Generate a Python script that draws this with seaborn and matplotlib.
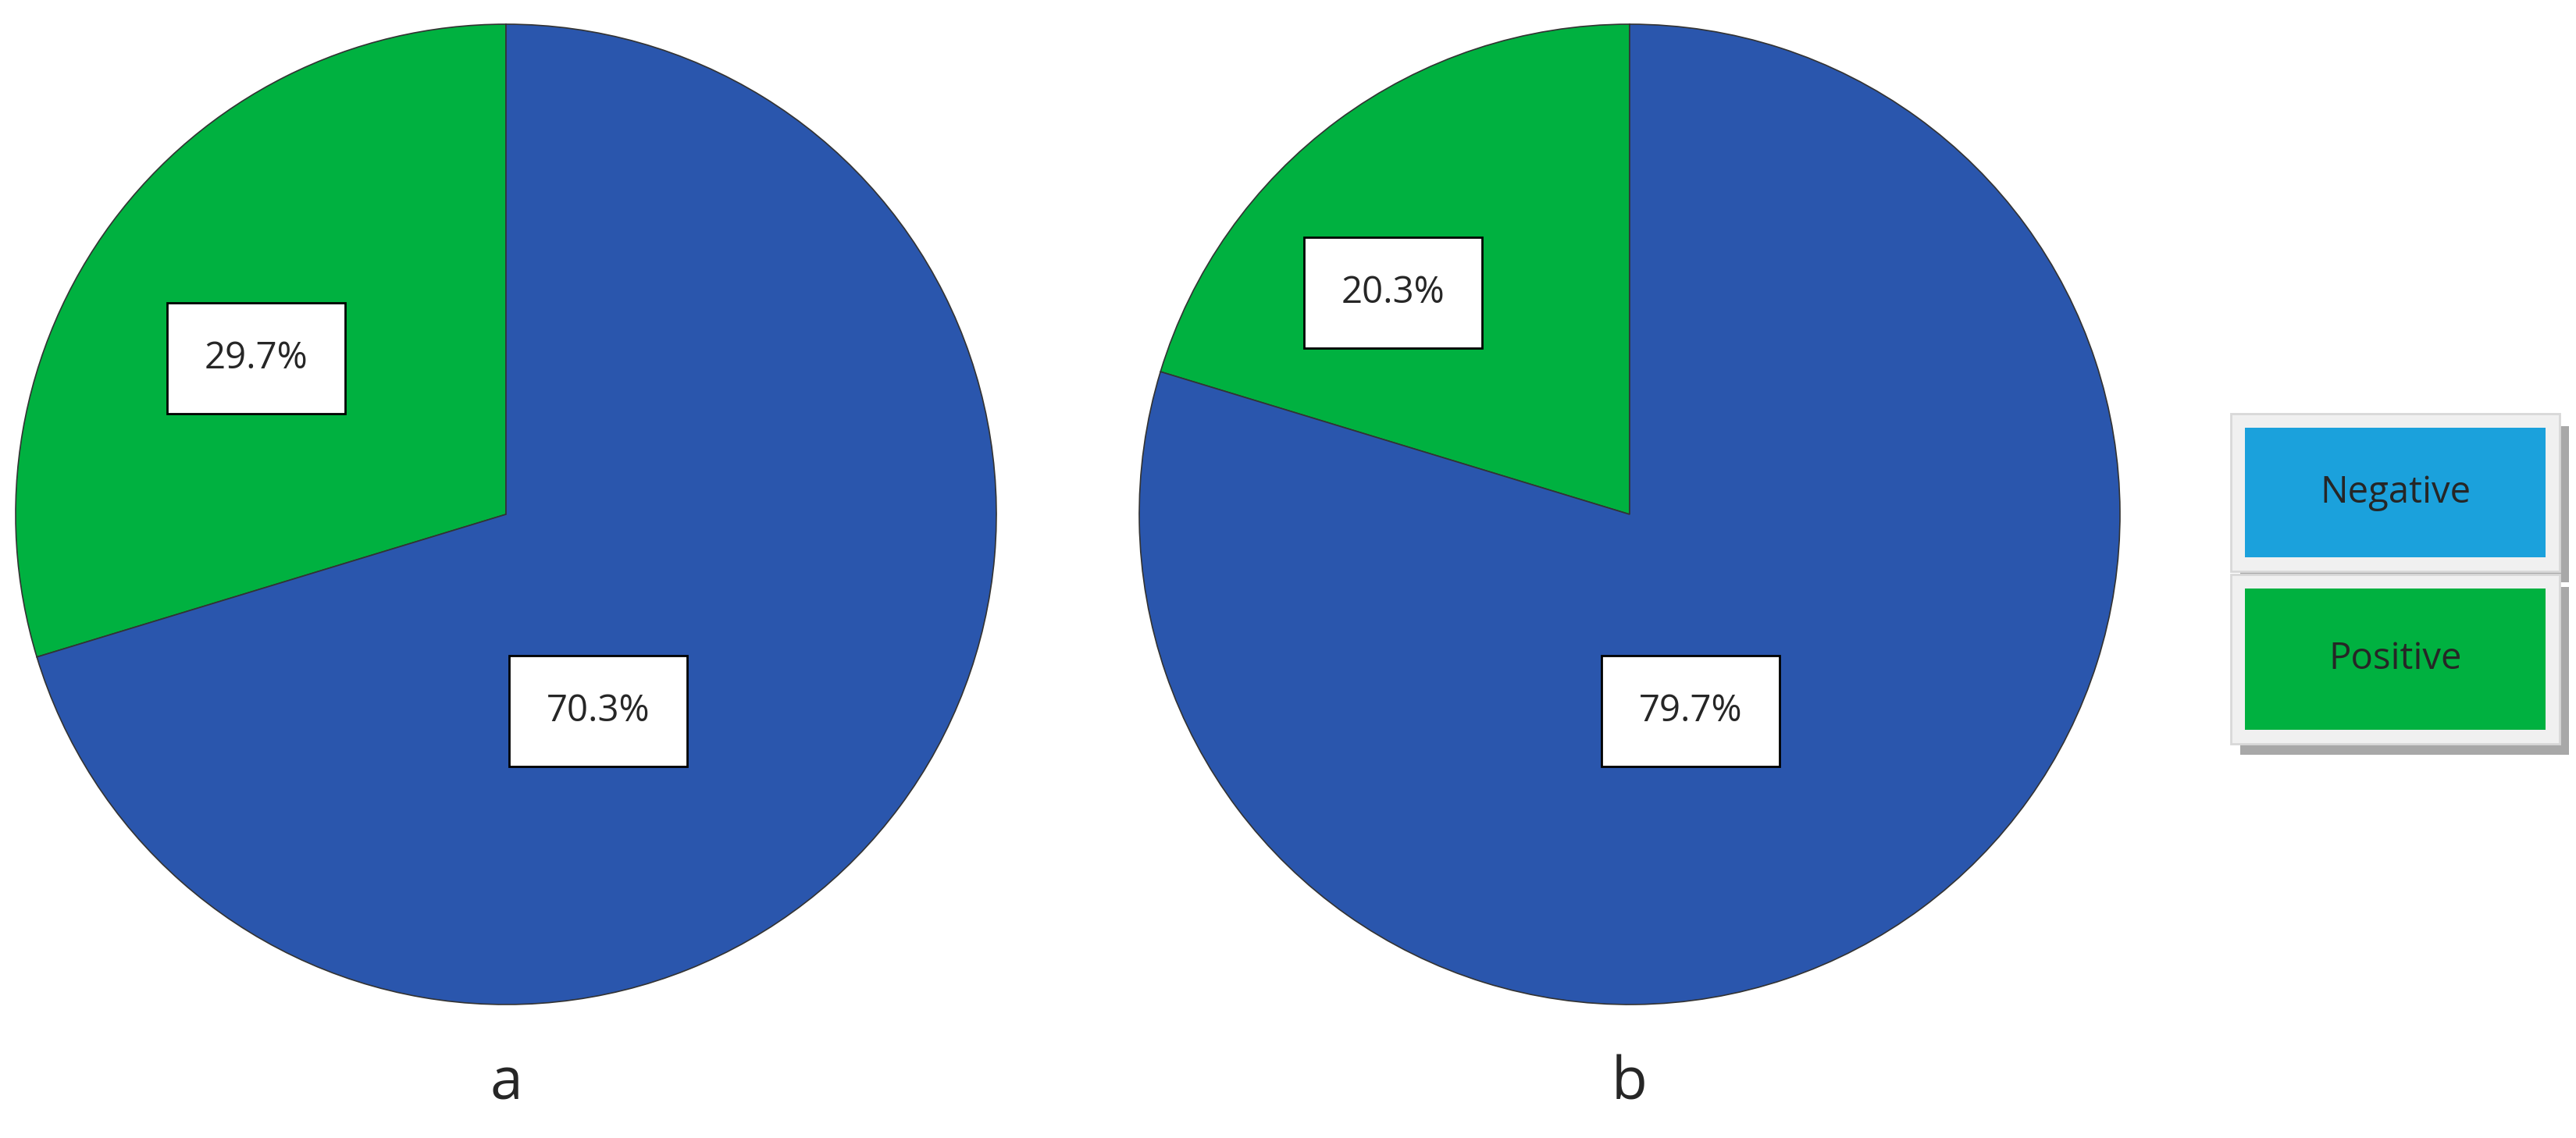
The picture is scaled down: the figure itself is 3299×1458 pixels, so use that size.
import matplotlib
matplotlib.use("Agg")
import matplotlib.pyplot as plt
import seaborn as sns
from matplotlib.patches import Rectangle

sns.set_style("white")
plt.rcParams['font.family'] = ['Open Sans', 'DejaVu Sans']

categories = ["Positive", "Negative"]
values_a = [29.7, 70.3]
values_b = [20.3, 79.7]
panel_labels = ["a", "b"]
pie_colors = ["#00B140", "#2A56AD"]
legend_colors = {"Negative": "#1BA1DC", "Positive": "#00B140"}

W, H = 3299, 1458
fig = plt.figure(figsize=(W/100, H/100), dpi=100)
R = 628
centers = [(648, 659), (2087, 659)]
# label positions relative to centre (pixel offsets, y up)
lab_off = [[(-320, 200), (118, -252)], [(-303, 284), (78, -252)]]

for (cx, cy), vals, lab, offs in zip(centers, [values_a, values_b], panel_labels, lab_off):
    ax = fig.add_axes([(cx-R)/W, (H-cy-R)/H, 2*R/W, 2*R/H])
    ax.pie(vals, colors=pie_colors, startangle=90, counterclock=True,
           wedgeprops=dict(edgecolor="#333333", linewidth=1.2))
    ax.set_xlim(-1, 1); ax.set_ylim(-1, 1); ax.set_aspect("auto")
    for v, (dx, dy) in zip(vals, offs):
        ax.text(dx/R, dy/R, f"{v:.1f}%", ha="center", va="center", fontsize=34,
                bbox=dict(boxstyle="square,pad=1.0", fc="white", ec="black", lw=2))
    fig.text(cx/W, 1-1389/H, lab, ha="center", va="center", fontsize=54)

# legend
for name, (x0, y0, x1, y1) in [("Negative", (2857, 530, 3278, 736)), ("Positive", (2857, 736, 3278, 957))]:
    fig.patches.append(Rectangle(((x0+12)/W, 1-(y1+10)/H), (x1-x0)/W, (y1-y0-6)/H,
                                 transform=fig.transFigure, fc="#A8A8A8", ec="none"))
    fig.patches.append(Rectangle((x0/W, 1-(y1-4)/H), (x1-x0)/W, (y1-y0-4)/H,
                                 transform=fig.transFigure, fc="#F0F0F0", ec="#D8D8D8", lw=2))
    fig.patches.append(Rectangle(((x0+18)/W, 1-(y1-22)/H), (x1-x0-36)/W, (y1-y0-40)/H,
                                 transform=fig.transFigure, fc=legend_colors[name], ec="none"))
    fig.text((x0+x1)/2/W, 1-((y0+y1)/2-2)/H, name, ha="center", va="center", fontsize=34)

fig.savefig("out.png", dpi=100)
